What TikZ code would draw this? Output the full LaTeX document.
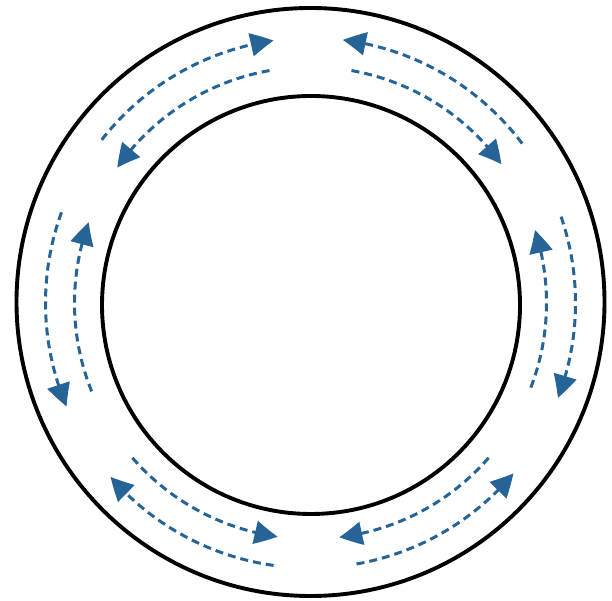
\documentclass[tikz,border=0pt]{standalone}
\usetikzlibrary{arrows.meta,bending}
\definecolor{flowblue}{RGB}{38,100,152}
\begin{document}
\begin{tikzpicture}[x=1pt,y=1pt,
  ring/.style={line width=3.9pt,black},
  flow/.style={flowblue,line width=3pt,dash pattern=on 8pt off 5pt,
    -{Triangle[length=23pt,width=23pt,bend]}},
]
\useasboundingbox (0,0) rectangle (612,601);
\coordinate (co) at (310.5,299);
\coordinate (ci) at (311,296);
\coordinate (c) at (310.5,298);
\draw[ring] (co) circle[radius=294];
\draw[ring] (ci) circle[radius=209];
% top-left
\draw[flow] ([shift={(142:265)}]c) arc[start angle=142,end angle=98,radius=265];
\draw[flow] ([shift={(100:236)}]c) arc[start angle=100,end angle=145,radius=236];
% top-right
\draw[flow] ([shift={(37:265)}]c) arc[start angle=37,end angle=83,radius=265];
\draw[flow] ([shift={(80:236)}]c) arc[start angle=80,end angle=36,radius=236];
% left
\draw[flow] ([shift={(160:265)}]c) arc[start angle=160,end angle=203,radius=265];
\draw[flow] ([shift={(202:236)}]c) arc[start angle=202,end angle=160,radius=236];
% right
\draw[flow] ([shift={(19:265)}]c) arc[start angle=19,end angle=-21,radius=265];
\draw[flow] ([shift={(-21:236)}]c) arc[start angle=-21,end angle=18,radius=236];
% bottom-left
\draw[flow] ([shift={(262:265)}]c) arc[start angle=262,end angle=221,radius=265];
\draw[flow] ([shift={(221:236)}]c) arc[start angle=221,end angle=262,radius=236];
% bottom-right
\draw[flow] ([shift={(280:265)}]c) arc[start angle=280,end angle=320,radius=265];
\draw[flow] ([shift={(319:236)}]c) arc[start angle=319,end angle=277,radius=236];
\end{tikzpicture}
\end{document}
